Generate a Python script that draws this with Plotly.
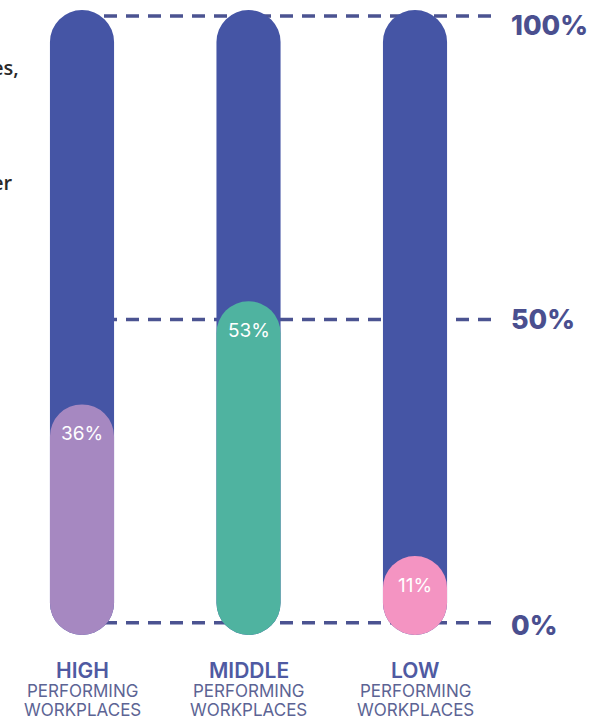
import plotly.graph_objects as go

groups = ["HIGH", "MIDDLE", "LOW"]
values = [36, 53, 11]
value_labels = ["36%", "53%", "11%"]
colors = ["#a688c1", "#4fb3a0", "#f494c2"]
navy = "#4555a5"
ref_levels = [0, 50, 100]
ref_labels = ["0%", "50%", "100%"]
bar_bottom = -2
bar_top = 101

xs = [0, 1, 2]
W = 0.385

fig = go.Figure()
# full background bars (rounded ends)
fig.add_trace(go.Bar(x=xs, base=[bar_bottom] * 3, y=[bar_top - bar_bottom] * 3,
                     width=W, marker=dict(color=navy, line=dict(width=0), cornerradius="50%"),
                     hoverinfo="skip"))
# coloured segments (rounded ends)
fig.add_trace(go.Bar(x=xs, base=[bar_bottom] * 3, y=[v - bar_bottom for v in values],
                     width=W, marker=dict(color=colors, line=dict(width=0), cornerradius="50%"),
                     hoverinfo="skip"))

shapes = []
for lv in ref_levels:
    shapes.append(dict(type="line", xref="x", yref="y", x0=0, x1=2.5, y0=lv, y1=lv,
                       layer="below", line=dict(color="#4b5391", width=3.5, dash="13px,9px")))

ann = []
ref_shift = {0: -3, 50: 0, 100: -9}
for lv, lb in zip(ref_levels, ref_labels):
    ann.append(dict(x=2.565, y=lv, xref="x", yref="y", text=lb, showarrow=False,
                    xanchor="left", yanchor="middle", yshift=ref_shift[lv],
                    font=dict(family="Inter", size=27, color="#4a4f8f", weight=800)))
for x, v, lb in zip(xs, values, value_labels):
    ann.append(dict(x=x, y=v, xref="x", yref="y", text=lb, showarrow=False,
                    xanchor="center", yanchor="top", yshift=-16,
                    font=dict(family="Inter", size=19, color="white")))
for x, g in zip(xs, groups):
    ann.append(dict(x=x, y=0, xref="x", yref="paper", text=g, showarrow=False,
                    xanchor="center", yanchor="middle", yshift=-29,
                    font=dict(family="Inter", size=21, color="#4f5aa2", weight=600)))
    ann.append(dict(x=x, y=0, xref="x", yref="paper", text="PERFORMING", showarrow=False,
                    xanchor="center", yanchor="middle", yshift=-50,
                    font=dict(family="Inter", size=17, color="#5c6494")))
    ann.append(dict(x=x, y=0, xref="x", yref="paper", text="WORKPLACES", showarrow=False,
                    xanchor="center", yanchor="middle", yshift=-69,
                    font=dict(family="Inter", size=17, color="#5c6494")))
# cropped side text
ann.append(dict(x=0, y=1, xref="paper", yref="paper", text="es,", showarrow=False,
                xanchor="left", yanchor="middle", xshift=-10, yshift=-60,
                font=dict(family="Open Sans", size=20, color="#2a2a2a", weight=600)))
ann.append(dict(x=0, y=1, xref="paper", yref="paper", text="er", showarrow=False,
                xanchor="left", yanchor="middle", xshift=-10, yshift=-175,
                font=dict(family="Open Sans", size=20, color="#2a2a2a", weight=600)))

fig.update_layout(
    width=597, height=722,
    margin=dict(l=0, r=0, t=7, b=81),
    paper_bgcolor="white", plot_bgcolor="white",
    barmode="overlay", showlegend=False,
    xaxis=dict(range=[-0.4925, 3.093], visible=False, fixedrange=True),
    yaxis=dict(range=[-3, 101.5], visible=False, fixedrange=True),
    shapes=shapes, annotations=ann,
)
fig.write_html("out.html")
